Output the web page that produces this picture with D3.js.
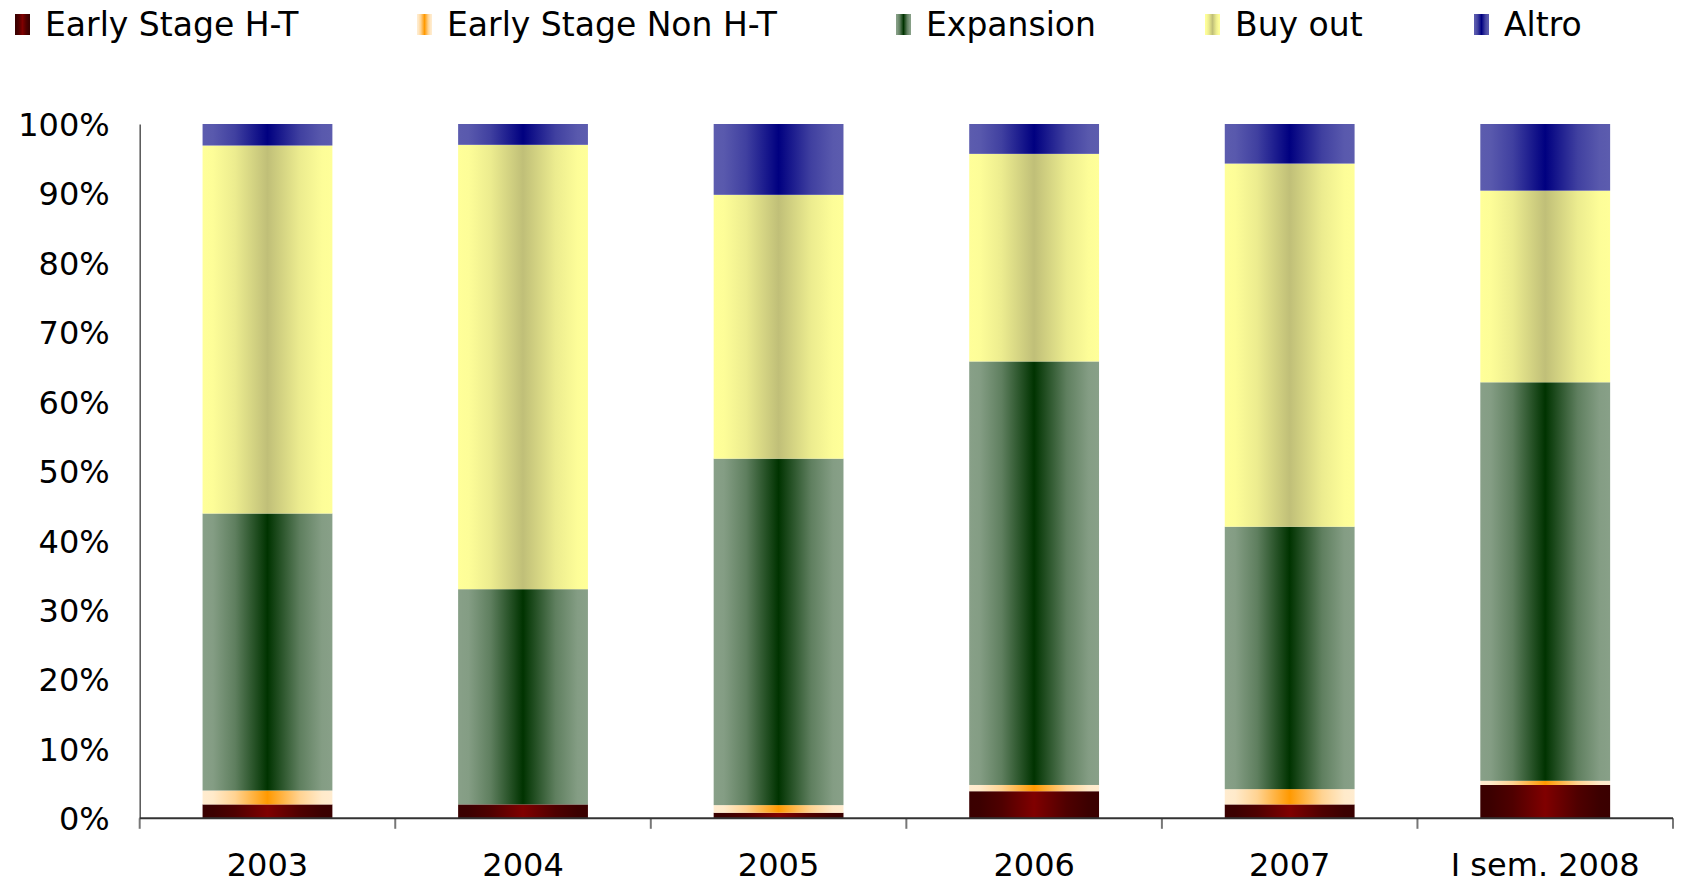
<!DOCTYPE html>
<html>
<head>
<meta charset="utf-8">
<script src="https://cdn.jsdelivr.net/npm/d3@7"></script>
<style>
  html, body { margin: 0; padding: 0; background: #fff; }
  svg text { font-family: "DejaVu Sans", Verdana, sans-serif; fill: #000; }
</style>
</head>
<body>
<div id="chart"></div>
<script>
// categories and series (percent share of each year)
const years = ['2003', '2004', '2005', '2006', '2007', 'I sem. 2008'];
const seriesNames = ['Early Stage H-T', 'Early Stage Non H-T', 'Expansion', 'Buy out', 'Altro'];
const earlyHT = [2.0, 2.0, 0.8, 3.9, 2.0, 4.8];
const earlyNonHT = [2.0, 0.0, 1.1, 0.9, 2.2, 0.6];
const expansion = [39.9, 31.0, 49.9, 61.0, 37.8, 57.4];
const buyOut = [53.0, 64.0, 38.0, 29.9, 52.3, 27.6];
const altro = [3.1, 3.0, 10.2, 4.3, 5.7, 9.6];
const yTicks = [0, 10, 20, 30, 40, 50, 60, 70, 80, 90, 100];

// edge / centre colours of each series gradient
const gradColors = [
  ['#3a0000', '#800000'],
  ['#ffecd0', '#ff9900'],
  ['#88a088', '#003300'],
  ['#ffff99', '#c0bf78'],
  ['#5c5cae', '#000080']
];

const width = 1683;
const height = 885;
const margin = {left: 139.7, right: 10, top: 124, bottom: 66.7};

const svg = d3.select('#chart')
  .append('svg')
  .attr('width', width)
  .attr('height', height);

// horizontal gradient: light edges, dark centre, edge colour held a bit longer
const defs = svg.append('defs');
gradColors.forEach((c, i)=> {
  const mix = d3.interpolateRgb(c[0], c[1]);
  const g = defs.append('linearGradient')
    .attr('id', `grad${i}`)
    .attr('x1', 0).attr('x2', 1).attr('y1', 0).attr('y2', 0);
  [[0, 0], [0.08, 0.03], [0.25, 0.3], [0.5, 1], [0.75, 0.3], [0.92, 0.03], [1, 0]]
    .forEach(([o, t])=> {
      g.append('stop').attr('offset', o).attr('stop-color', mix(t));
    });
});

const table = years.map((y, i)=> ({
  year: y,
  s0: earlyHT[i],
  s1: earlyNonHT[i],
  s2: expansion[i],
  s3: buyOut[i],
  s4: altro[i]
}));
const keys = ['s0', 's1', 's2', 's3', 's4'];
const stacked = d3.stack().keys(keys)(table);

const x = d3.scaleBand()
  .domain(years)
  .range([margin.left, width - margin.right])
  .paddingInner(0.492)
  .paddingOuter(0.246);

const y = d3.scaleLinear()
  .domain([0, 100])
  .range([height - margin.bottom, margin.top]);

// bars
const layers = svg.append('g').attr('class', 'bars')
  .selectAll('g')
  .data(stacked)
  .join('g')
  .attr('fill', (d, i)=> `url(#grad${i})`);

layers.selectAll('rect')
  .data((d)=> d.filter((p)=> p[1] - p[0] > 0))
  .join('rect')
  .attr('x', (d)=> x(d.data.year))
  .attr('width', x.bandwidth())
  .attr('y', (d)=> y(d[1]))
  .attr('height', (d)=> y(d[0]) - y(d[1]));

// y axis
const yAxis = svg.append('g')
  .attr('transform', `translate(${margin.left},0)`)
  .call(d3.axisLeft(y).tickValues(yTicks).tickSize(0).tickPadding(30)
    .tickFormat((d)=> `${d}%`));
yAxis.select('.domain').attr('stroke', '#555').attr('stroke-width', 1.5);
yAxis.selectAll('text')
  .style('font-size', '32px')
  .attr('dy', '0.36em');

// x axis line with boundary ticks
const x0 = margin.left;
const x1 = width - margin.right;
const yb = y(0);
svg.append('g').attr('class', 'xticks')
  .selectAll('line')
  .data(d3.range(years.length + 1))
  .join('line')
  .attr('x1', (i)=> x0 + i * x.step())
  .attr('x2', (i)=> x0 + i * x.step())
  .attr('y1', yb)
  .attr('y2', yb + 10.5)
  .attr('stroke', '#777')
  .attr('stroke-width', 2);
svg.append('line')
  .attr('x1', x0).attr('x2', x1)
  .attr('y1', yb).attr('y2', yb)
  .attr('stroke', '#333')
  .attr('stroke-width', 2);

svg.append('g').attr('class', 'xlabels')
  .selectAll('text')
  .data(years)
  .join('text')
  .attr('x', (d)=> x(d) + x.bandwidth() / 2)
  .attr('y', 876)
  .attr('text-anchor', 'middle')
  .style('font-size', '32px')
  .text((d)=> d);

// legend
const legendX = [15, 417, 896, 1205, 1474];
const legend = svg.append('g').attr('class', 'legend')
  .selectAll('g')
  .data(seriesNames)
  .join('g')
  .attr('transform', (d, i)=> `translate(${legendX[i]},0)`);
legend.append('rect')
  .attr('x', 0).attr('y', 14)
  .attr('width', 15).attr('height', 21)
  .attr('fill', (d, i)=> `url(#grad${i})`);
legend.append('text')
  .attr('x', 30)
  .attr('y', 36)
  .style('font-size', '33px')
  .text((d)=> d);
</script>
</body>
</html>
